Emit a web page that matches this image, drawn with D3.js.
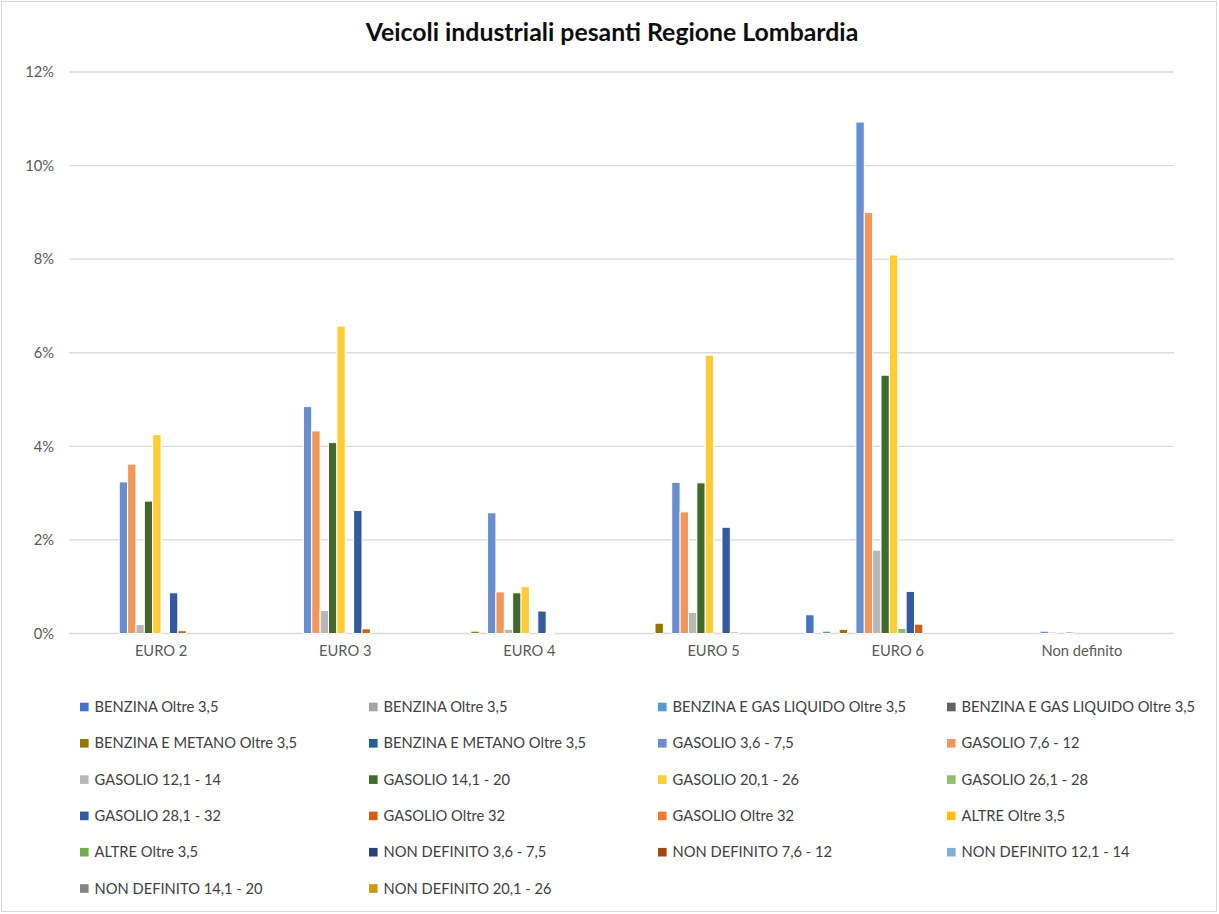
<!DOCTYPE html>
<html>
<head>
<meta charset="utf-8">
<script src="https://cdn.jsdelivr.net/npm/d3@7"></script>
<style>
  html, body { margin: 0; padding: 0; background: #fff; }
  svg { display: block; }
  text { font-family: Lato, "Liberation Sans", sans-serif; }
</style>
</head>
<body>
<svg id="chart" width="1219" height="914"></svg>
<script>
// Categories on the x axis
const categories = ["EURO 2", "EURO 3", "EURO 4", "EURO 5", "EURO 6", "Non definito"];

// Series names (legend order)
const seriesNames = [
  "BENZINA Oltre 3,5", "BENZINA Oltre 3,5",
  "BENZINA E GAS LIQUIDO Oltre 3,5", "BENZINA E GAS LIQUIDO Oltre 3,5",
  "BENZINA E METANO Oltre 3,5", "BENZINA E METANO Oltre 3,5",
  "GASOLIO 3,6 - 7,5", "GASOLIO 7,6 - 12",
  "GASOLIO 12,1 - 14", "GASOLIO 14,1 - 20",
  "GASOLIO 20,1 - 26", "GASOLIO 26,1 - 28",
  "GASOLIO 28,1 - 32", "GASOLIO Oltre 32",
  "GASOLIO Oltre 32", "ALTRE Oltre 3,5",
  "ALTRE Oltre 3,5", "NON DEFINITO 3,6 - 7,5",
  "NON DEFINITO 7,6 - 12", "NON DEFINITO 12,1 - 14",
  "NON DEFINITO 14,1 - 20", "NON DEFINITO 20,1 - 26"
];

// Series colours
const seriesColors = [
  "#4472C4", "#A5A5A5", "#5B9BD5", "#636363", "#997300", "#255E91",
  "#698ED0", "#F1975A", "#B7B7B7", "#43682B", "#FFCD33", "#8CC168",
  "#335AA1", "#D26012", "#ED7D31", "#FFC000", "#70AD47", "#264478",
  "#9E480E", "#7CAFDD", "#848484", "#CC9A00"
];

// Share of vehicles (%) per series, one value per category
const seriesValues = [
  [0, 0, 0, 0, 0.40, 0],
  [0, 0, 0, 0, 0, 0],
  [0, 0, 0, 0, 0.05, 0],
  [0, 0, 0, 0, 0, 0],
  [0, 0, 0.05, 0.22, 0.09, 0],
  [0, 0, 0, 0, 0, 0],
  [3.24, 4.85, 2.58, 3.23, 10.93, 0.05],
  [3.62, 4.33, 0.89, 2.60, 9.00, 0.03],
  [0.19, 0.49, 0.09, 0.45, 1.78, 0],
  [2.83, 4.08, 0.87, 3.22, 5.52, 0.03],
  [4.25, 6.57, 1.00, 5.95, 8.09, 0],
  [0, 0, 0, 0, 0.11, 0],
  [0.87, 2.63, 0.48, 2.27, 0.90, 0],
  [0.06, 0.10, 0.02, 0.03, 0.20, 0],
  [0, 0, 0, 0, 0, 0],
  [0, 0, 0, 0, 0, 0],
  [0, 0, 0, 0, 0, 0],
  [0, 0, 0, 0, 0, 0],
  [0, 0, 0, 0, 0, 0],
  [0, 0, 0, 0, 0, 0],
  [0, 0, 0, 0, 0, 0],
  [0, 0, 0, 0, 0, 0]
];

// Y axis ticks (%)
const yTicks = [0, 2, 4, 6, 8, 10, 12];

const titleText = "Veicoli industriali pesanti Regione Lombardia";

const svg = d3.select("#chart");
const W = 1219, H = 914;
const plot = { left: 69, right: 1174, top: 72, bottom: 633.5 };

// Pick a font size so that a reference string renders at a given width
function fitSize(str, weight, targetWidth) {
  const t = svg.append("text").attr("font-size", 100).attr("font-weight", weight).text(str);
  const w = t.node().getComputedTextLength();
  t.remove();
  return 100 * targetWidth / w;
}
const labelSize = fitSize("BENZINA Oltre 3,5", 400, 124);
const titleSize = fitSize(titleText, 700, 493);

// Chart frame
svg.append("rect")
  .attr("x", 1.5).attr("y", 1.5).attr("width", W - 4).attr("height", H - 4)
  .attr("fill", "#fff").attr("stroke", "#D9D9D9").attr("stroke-width", 1);

// Title
svg.append("text")
  .attr("x", 612).attr("y", 41)
  .attr("text-anchor", "middle")
  .attr("font-size", titleSize).attr("font-weight", 700)
  .attr("fill", "#0D0D0D")
  .text(titleText);

// Scales
const x0 = d3.scaleBand().domain(categories).range([plot.left, plot.right]).paddingInner(0).paddingOuter(0);
const x1 = d3.scaleBand().domain(d3.range(seriesNames.length)).range([0, x0.bandwidth()]).padding(0);
const y = d3.scaleLinear().domain([0, 12]).range([plot.bottom, plot.top]);

// Gridlines
svg.append("g")
  .selectAll("line")
  .data(yTicks)
  .join("line")
  .attr("x1", plot.left).attr("x2", plot.right)
  .attr("y1", d => y(d)).attr("y2", d => y(d))
  .attr("stroke", "#D9D9D9").attr("stroke-width", 1.3);

// Y axis labels
const yAxis = svg.append("g")
  .attr("transform", `translate(${plot.left - 15},0)`)
  .call(d3.axisLeft(y).tickValues(yTicks).tickFormat(d => d + "%").tickSize(0).tickPadding(0));
yAxis.select(".domain").remove();
yAxis.selectAll("text")
  .attr("font-family", "Lato, 'Liberation Sans', sans-serif")
  .attr("font-size", labelSize).attr("fill", "#595959");

// X axis labels
const xAxis = svg.append("g")
  .attr("transform", `translate(0,${plot.bottom})`)
  .call(d3.axisBottom(x0).tickSize(0).tickPadding(12));
xAxis.select(".domain").remove();
xAxis.selectAll("text")
  .attr("font-family", "Lato, 'Liberation Sans', sans-serif")
  .attr("font-size", labelSize).attr("fill", "#595959");

// Bars
const bars = [];
seriesValues.forEach((vals, s) => {
  vals.forEach((v, c) => {
    if (v > 0) bars.push({ s, c, v });
  });
});
svg.append("g")
  .selectAll("rect")
  .data(bars)
  .join("rect")
  .attr("x", d => x0(categories[d.c]) + x1(d.s))
  .attr("width", x1.bandwidth())
  .attr("y", d => y(d.v))
  .attr("height", d => y(0) - y(d.v))
  .attr("fill", d => seriesColors[d.s])
  .attr("stroke", "#fff").attr("stroke-width", 1);

// Legend: four columns
const legend = { x: 80, y: 707, colStep: 289, rowStep: 36.3, box: 8.6, gap: 6 };
const items = svg.append("g")
  .selectAll("g")
  .data(seriesNames.map((name, i) => ({ name, i })))
  .join("g")
  .attr("transform", d => `translate(${legend.x + (d.i % 4) * legend.colStep},${legend.y + Math.floor(d.i / 4) * legend.rowStep})`);
items.append("rect")
  .attr("x", 0).attr("y", -legend.box / 2)
  .attr("width", legend.box).attr("height", legend.box)
  .attr("fill", d => seriesColors[d.i]);
items.append("text")
  .attr("x", legend.box + legend.gap).attr("y", 0)
  .attr("dy", "0.35em")
  .attr("font-size", labelSize).attr("fill", "#404040")
  .text(d => d.name);
</script>
</body>
</html>
